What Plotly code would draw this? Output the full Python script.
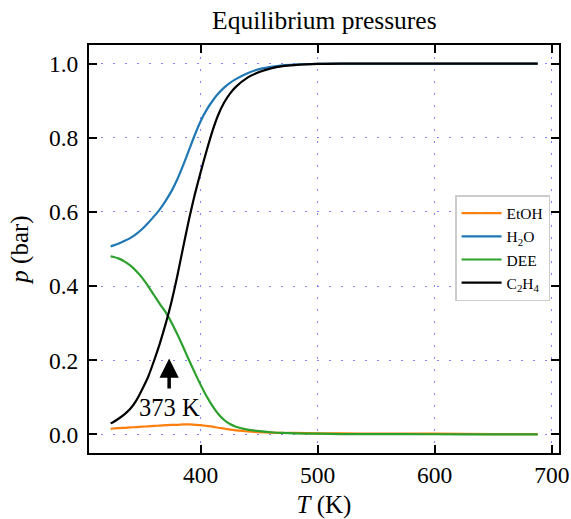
import plotly.graph_objects as go

# temperature grid (K)
T = [323, 325, 330, 335, 340, 345, 350, 355, 360, 365, 370, 375, 380, 385, 390,
     395, 400, 405, 410, 415, 420, 425, 430, 440, 450, 460, 470, 480, 500, 520,
     550, 600, 650, 688]

# partial pressures (bar)
p_etoh = [0.015, 0.016, 0.017, 0.018, 0.019, 0.020, 0.021, 0.022, 0.023, 0.024, 0.025,
          0.026, 0.026, 0.027, 0.027, 0.026, 0.025, 0.023, 0.021, 0.018, 0.016, 0.013,
          0.011, 0.008, 0.006, 0.005, 0.004, 0.004, 0.003, 0.003, 0.002, 0.002, 0.001, 0.001]
p_h2o = [0.507, 0.509, 0.515, 0.522, 0.530, 0.541, 0.554, 0.570, 0.588, 0.607, 0.630,
         0.656, 0.688, 0.726, 0.767, 0.808, 0.845, 0.875, 0.899, 0.919, 0.935, 0.948,
         0.958, 0.974, 0.985, 0.991, 0.995, 0.997, 0.999, 1.0, 1.0, 1.0, 1.0, 1.0]
p_dee = [0.480, 0.479, 0.474, 0.466, 0.455, 0.440, 0.422, 0.400, 0.376, 0.352, 0.330,
         0.302, 0.270, 0.236, 0.200, 0.166, 0.133, 0.103, 0.077, 0.055, 0.039, 0.028,
         0.021, 0.013, 0.009, 0.006, 0.004, 0.003, 0.002, 0.001, 0.001, 0.0005, 0.0003, 0.0002]
p_c2h4 = [0.030, 0.033, 0.043, 0.055, 0.070, 0.092, 0.122, 0.155, 0.198, 0.245, 0.298,
          0.358, 0.428, 0.505, 0.580, 0.648, 0.708, 0.765, 0.818, 0.862, 0.895, 0.919,
          0.937, 0.962, 0.977, 0.987, 0.993, 0.996, 0.999, 1.0, 1.0, 1.0, 1.0, 1.0]

series = [
    ("EtOH", p_etoh, "#ff7f0e"),
    ("H<sub>2</sub>O", p_h2o, "#1f77b4"),
    ("DEE", p_dee, "#2ca02c"),
    ("C<sub>2</sub>H<sub>4</sub>", p_c2h4, "black"),
]

arrow_T = 373
arrow_from, arrow_to = 0.12, 0.205
label_y = 0.072

FONT = "Liberation Serif, Times New Roman, Times, serif"

fig = go.Figure()
for name, p, color in series:
    fig.add_trace(go.Scatter(
        x=T, y=p, mode="lines", name=name,
        line=dict(color=color, width=2.2, shape="spline", smoothing=0.6),
    ))

# arrow marking 373 K
fig.add_annotation(
    x=arrow_T, y=arrow_to, ax=arrow_T, ay=arrow_from,
    xref="x", yref="y", axref="x", ayref="y",
    text="", showarrow=True, arrowhead=2, arrowsize=1.1,
    arrowwidth=3.5, arrowcolor="black",
)
fig.add_annotation(
    x=arrow_T, y=label_y, xref="x", yref="y", text="373 K",
    showarrow=False, font=dict(family=FONT, size=24.5, color="black"),
)

grid = dict(showgrid=True, gridcolor="rgba(110,110,255,0.85)", gridwidth=1,
            griddash="2px,10px")
axis_common = dict(
    showline=True, linecolor="black", linewidth=2, mirror="ticks",
    ticks="inside", ticklen=8, tickwidth=1.5, tickcolor="black",
    zeroline=False, automargin=False,
    tickfont=dict(family=FONT, size=23.5, color="black"),
    **grid,
)

fig.update_layout(
    width=571, height=519,
    margin=dict(l=89, r=12, t=45, b=66),
    plot_bgcolor="white", paper_bgcolor="white",
    font=dict(family=FONT, size=24, color="black"),
    title=dict(text="Equilibrium pressures", x=0.568, xanchor="center",
               y=0.962, yanchor="middle", font=dict(family=FONT, size=25.5)),
    xaxis=dict(range=[304.5, 706.2], tickvals=[400, 500, 600, 700],
               title=dict(text="<i>T</i> (K)", standoff=10,
                          font=dict(family=FONT, size=25)),
               **axis_common),
    yaxis=dict(range=[-0.05, 1.05], tickvals=[0, 0.2, 0.4, 0.6, 0.8, 1.0],
               tickformat=".1f", ticklabelstandoff=4,
               title=dict(text="<i>p</i> (bar)", standoff=13,
                          font=dict(family=FONT, size=25)),
               **axis_common),
    legend=dict(x=0.981, xanchor="right", y=0.632, yanchor="top",
                bgcolor="rgba(255,255,255,0.9)", bordercolor="#cccccc",
                borderwidth=1.5, font=dict(family=FONT, size=15.5),
                itemwidth=40, tracegroupgap=0),
    showlegend=True,
)

fig.write_html("out.html", config={"displayModeBar": False},
               post_script="document.body.style.margin='0';")
